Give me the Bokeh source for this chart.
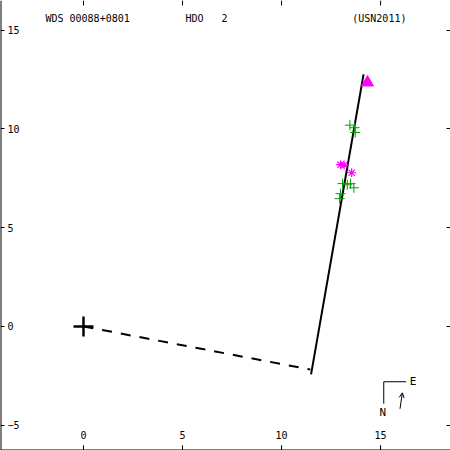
from bokeh.plotting import figure
from bokeh.models import LinearAxis, FixedTicker, Label, Arrow, OpenHead, Range1d
from bokeh.embed import file_html
from bokeh.resources import INLINE

# ---------------- data ----------------
x_ticks = [0, 5, 10, 15]
y_ticks = [-5, 0, 5, 10, 15]
x_lim = (-4.19, 18.53)
y_lim = (-6.28, 16.5)

primary_x = [0.0]
primary_y = [0.0]

fit_x = [11.49, 14.14]
fit_y = [-2.43, 12.76]

perp_x = [0.0, 11.45]
perp_y = [0.0, -2.18]

green_x = [13.45, 13.69, 13.72, 13.08, 13.32, 13.48, 13.65, 12.98, 12.93]
green_y = [10.19, 10.06, 9.82, 7.23, 7.17, 7.23, 7.02, 6.72, 6.47]

mag_x = [12.98, 13.16, 13.54]
mag_y = [8.19, 8.17, 7.78]

tri_x = [14.34]
tri_y = [12.35]

NB = "\u00a0"
title_left = "WDS" + NB + "00088+0801"
title_mid = "HDO" + NB * 3 + "2"
title_right = "(USN2011)"

# compass (decoration)
compass_x0 = [15.16, 15.16]
compass_y0 = [-2.80, -2.80]
compass_x1 = [16.29, 15.16]
compass_y1 = [-2.80, -3.91]

FONT = "DejaVu Sans Mono"
FS = "10px"
W = H = 450

p = figure(width=W, height=H,
           x_range=Range1d(*x_lim), y_range=Range1d(*y_lim),
           x_axis_location=None, y_axis_location=None,
           toolbar_location=None, output_backend="svg",
           min_border=0, outline_line_color=None)
p.xgrid.visible = False
p.ygrid.visible = False
p.background_fill_color = "white"
p.border_fill_color = "white"


def style(ax, labels=True, line=True, tick=5):
    ax.major_tick_in = tick
    ax.major_tick_out = tick
    ax.minor_tick_in = 0
    ax.minor_tick_out = 0
    ax.major_tick_line_color = "black"
    ax.major_tick_line_width = 1
    ax.axis_line_color = "black" if line else None
    ax.axis_line_width = 2
    ax.major_label_text_font = FONT
    ax.major_label_text_font_size = FS
    ax.major_label_text_color = "black" if labels else None
    ax.major_label_standoff = 2


# bottom edge labels (inside)
bx = LinearAxis(ticker=FixedTicker(ticks=x_ticks), fixed_location=y_lim[0])
style(bx)
bx.major_label_standoff = 7
p.add_layout(bx, "above")

# left edge ticks + labels (inside)
ly = LinearAxis(ticker=FixedTicker(ticks=y_ticks), fixed_location=x_lim[0])
style(ly, tick=4)
ly.major_tick_in = 0
ly.major_label_standoff = 3
p.add_layout(ly, "right")

# right edge ticks
ry = LinearAxis(ticker=FixedTicker(ticks=y_ticks), fixed_location=x_lim[1])
style(ry, labels=False, line=False, tick=4)
p.add_layout(ry, "left")

# top and bottom edge tick marks, 5 px long, at the x tick values
tick_len = 5 * (y_lim[1] - y_lim[0]) / H
p.segment(x_ticks, [y_lim[0]] * len(x_ticks), x_ticks, [y_lim[0] + tick_len] * len(x_ticks),
          line_color="black", line_width=1)
p.segment(x_ticks, [y_lim[1]] * len(x_ticks), x_ticks, [y_lim[1] - tick_len] * len(x_ticks),
          line_color="black", line_width=1)

# lines
p.line(perp_x, perp_y, line_color="black", line_width=2, line_dash="10 9")
p.line(fit_x, fit_y, line_color="black", line_width=2)

# primary
p.scatter(primary_x, primary_y, marker="cross", size=20, line_color="black", line_width=2.5)

# observations
p.scatter(green_x, green_y, marker="cross", size=10, line_color="#00a000", line_width=1)
p.scatter(mag_x, mag_y, marker="asterisk", size=9, line_color="#ff00ff", line_width=1.2)
p.scatter(tri_x, tri_y, marker="triangle", size=12, line_color="#ff00ff", fill_color="#ff00ff")

# titles
for txt, xx in [(title_left, -1.92), (title_mid, 5.15), (title_right, 13.57)]:
    p.add_layout(Label(x=xx, y=15.61, text=txt, text_font=FONT, text_font_size=FS,
                       text_baseline="middle", text_align="left", text_color="black"))

# compass
p.segment(compass_x0, compass_y0, compass_x1, compass_y1, line_color="black", line_width=1)
p.add_layout(Label(x=16.64, y=-2.80, text="E", text_font=FONT, text_font_size="11px",
                   text_baseline="middle", text_align="center", text_color="black"))
p.add_layout(Label(x=15.11, y=-4.34, text="N", text_font=FONT, text_font_size="11px",
                   text_baseline="middle", text_align="center", text_color="black"))
p.add_layout(Arrow(end=OpenHead(size=5, line_width=1, line_color="black"),
                   x_start=15.98, y_start=-4.17, x_end=16.10, y_end=-3.36,
                   line_width=1, line_color="black"))

open("out.html", "w").write(file_html(p, INLINE))
